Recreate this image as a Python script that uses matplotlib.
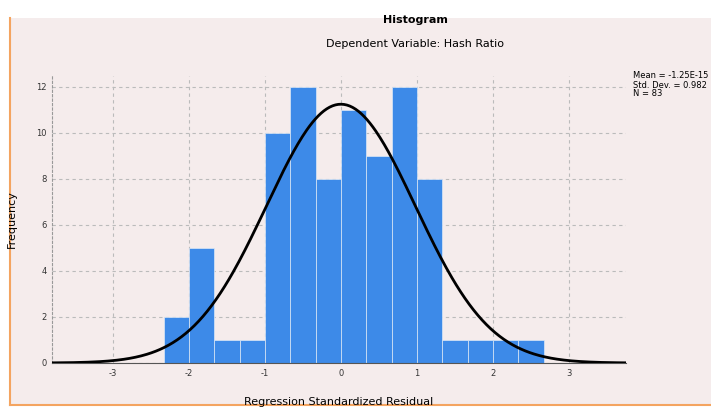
import numpy as np
import matplotlib
matplotlib.use("Agg")
import matplotlib.pyplot as plt
from matplotlib.patches import Rectangle
from matplotlib.lines import Line2D

plt.rcParams["axes.unicode_minus"] = False

# ---- data ----
bin_edges = [-2.333, -2.0, -1.667, -1.333, -1.0, -0.667, -0.333, 0.0,
             0.333, 0.667, 1.0, 1.333, 1.667, 2.0, 2.333, 2.667]
counts = [2, 5, 1, 1, 10, 12, 8, 11, 9, 12, 8, 1, 1, 1, 1]
mean_val = 0.0
std_val = 0.98
n_val = sum(counts)
x_ticks = [-3, -2, -1, 0, 1, 2, 3]
y_ticks = [0, 2, 4, 6, 8, 10, 12]
title = "Histogram"
subtitle = "Dependent Variable: Hash Ratio"
xlabel = "Regression Standardized Residual"
ylabel = "Frequency"
legend_lines = ["Mean = -1.25E-15", "Std. Dev. = 0.982", "N = 83"]

W, H = 711, 407
fig = plt.figure(figsize=(W / 100, H / 100), dpi=100, facecolor="white")

# background panel with orange left/bottom border
bg = Rectangle((10 / W, 2 / H), 1 - 10 / W, (H - 20) / H, transform=fig.transFigure,
               facecolor="#f5ecec", edgecolor="none", zorder=-10)
fig.patches.append(bg)
fig.lines.append(Line2D([10 / W, 10 / W], [2 / H, (H - 18) / H], transform=fig.transFigure,
                        color="#f4a460", lw=1.5, zorder=-5))
fig.lines.append(Line2D([10 / W, 1], [2 / H, 2 / H], transform=fig.transFigure,
                        color="#f4a460", lw=1.5, zorder=-5))

ax = fig.add_axes([52 / W, (H - 363) / H, (626 - 52) / W, (363 - 75.5) / H])
ax.set_facecolor("none")

widths = np.diff(bin_edges)
ax.bar(bin_edges[:-1], counts, width=widths, align="edge", color="#3d8ae8",
       edgecolor="#dce8f6", linewidth=0.5, zorder=2)

bw = widths[0]
xs = np.linspace(-3.8, 3.75, 400)
ys = n_val * bw / (std_val * np.sqrt(2 * np.pi)) * np.exp(-0.5 * ((xs - mean_val) / std_val) ** 2)
ax.plot(xs, ys, color="black", lw=2, zorder=3)

ax.set_xlim(-3.8, 3.75)
ax.set_ylim(0, 12.5)
ax.set_xticks(x_ticks)
ax.set_yticks(y_ticks)
ax.tick_params(labelsize=6, length=0, colors="#333333", pad=4)
ax.grid(True, color="#bbbbbb", linestyle=(0, (3, 3)), lw=0.8, zorder=1)
ax.set_axisbelow(True)
for s in ["top", "right"]:
    ax.spines[s].set_visible(False)
ax.spines["left"].set_color("#999999")
ax.spines["left"].set_linestyle((0, (2, 2)))
ax.spines["bottom"].set_color("#555555")

ax.set_xlabel(xlabel, fontsize=8, labelpad=14)
ax.set_ylabel(ylabel, fontsize=8, labelpad=14)

fig.text(415 / W, 1 - 20 / H, title, ha="center", va="center", fontsize=8, fontweight="bold")
fig.text(415 / W, 1 - 44 / H, subtitle, ha="center", va="center", fontsize=8)
fig.text(633 / W, 1 - 85 / H, "\n".join(legend_lines), ha="left", va="center",
         fontsize=6, linespacing=1.0)

fig.savefig("out.png", dpi=100, facecolor="white")
